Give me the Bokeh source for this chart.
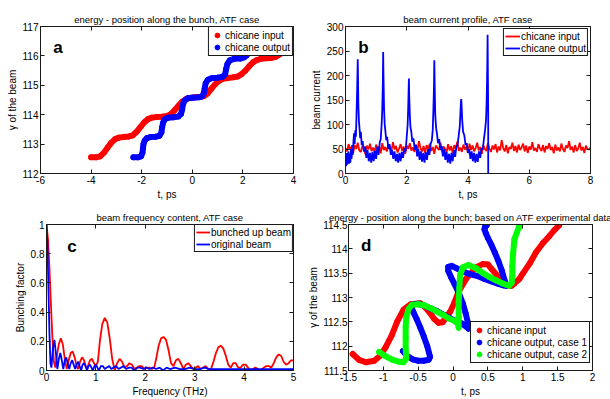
import numpy as np
from bokeh.plotting import figure
from bokeh.models import (Range1d, FixedTicker, LinearAxis, Legend, LegendItem, Label)
from bokeh.layouts import row, column
from bokeh.embed import file_html
from bokeh.resources import INLINE

FONT = "'Liberation Sans'"
RED, BLUE, GREEN = "#ff0000", "#0000ff", "#00ff00"
INK = "#1a1a1a"

# ---------------- data: panel a (energy vs position, ATF case) ----------------
a_in_t = [-4.00, -3.80, -3.65, -3.50, -3.35, -3.20, -3.05, -2.90, -2.70, -2.50, -2.35, -2.20, -2.05,
          -1.90, -1.75, -1.60, -1.40, -1.20, -1.00, -0.85, -0.70, -0.55, -0.40, -0.25, -0.10, 0.10,
          0.30, 0.45, 0.60, 0.75, 0.90, 1.05, 1.20, 1.40, 1.60, 1.80, 1.95, 2.10, 2.25, 2.40, 2.55,
          2.70, 2.90, 3.10, 3.30, 3.45, 3.60, 3.75, 3.90, 4.00]
a_in_g = [112.55, 112.55, 112.58, 112.70, 112.88, 113.05, 113.17, 113.22, 113.24, 113.26, 113.30,
          113.42, 113.58, 113.74, 113.85, 113.90, 113.92, 113.93, 113.96, 114.02, 114.15, 114.30,
          114.44, 114.53, 114.57, 114.59, 114.60, 114.63, 114.72, 114.88, 115.03, 115.15, 115.22,
          115.25, 115.27, 115.30, 115.38, 115.50, 115.65, 115.78, 115.86, 115.90, 115.92, 115.93,
          115.97, 116.05, 116.16, 116.28, 116.37, 116.40]
a_out_t = [-2.33, -2.15, -2.03, -1.97, -1.95, -1.93, -1.88, -1.80, -1.65, -1.45, -1.30, -1.22, -1.19,
           -1.15, -1.08, -0.95, -0.75, -0.55, -0.45, -0.40, -0.37, -0.30, -0.18, 0.00, 0.25, 0.38,
           0.45, 0.49, 0.53, 0.62, 0.78, 1.00, 1.20, 1.30, 1.34, 1.39, 1.48, 1.65, 1.90, 2.05, 2.15, 2.22]
a_out_g = [112.55, 112.55, 112.58, 112.70, 112.85, 113.00, 113.12, 113.20, 113.24, 113.25, 113.28,
           113.40, 113.58, 113.74, 113.85, 113.90, 113.91, 113.94, 114.02, 114.18, 114.35, 114.48,
           114.56, 114.58, 114.59, 114.62, 114.72, 114.90, 115.07, 115.19, 115.25, 115.26, 115.29,
           115.38, 115.56, 115.73, 115.85, 115.90, 115.91, 115.95, 116.02, 116.10]
a_xticks = [-6, -4, -2, 0, 2, 4]
a_xlabels = ["-6", "-4", "-2", "0", "2", "4"]
a_yticks = [112, 113, 114, 115, 116, 117]
a_ylabels = ["112", "113", "114", "115", "116", "117"]

# ---------------- data: panel b (beam current profile) ----------------
b_in_I = [52, 45, 60, 48, 55, 42, 58, 50, 63, 47, 44, 56, 51, 39, 57, 49, 61, 46, 53, 43, 59, 50, 55,
          41, 62, 48, 54, 45, 58, 52, 47, 64, 49, 56, 43, 51, 60, 46, 55, 40, 57, 50, 62, 47, 53, 44,
          59, 48, 66, 51, 45, 56, 42, 58, 49, 61, 46, 54, 40, 57, 52, 48, 63, 45, 55, 50, 43, 60, 47,
          56, 41, 58, 51, 65, 46, 53, 44, 59, 49, 55, 42, 61, 48, 57, 45, 52, 63, 47, 54, 40, 58, 50,
          46, 62, 51, 44, 57, 49, 60, 43, 55, 47, 68, 52, 45, 58, 41, 54, 50, 63, 46, 56, 43, 59, 48,
          53, 61, 45, 57, 42, 55, 49, 64, 47, 52, 44, 60, 51, 46, 58, 43, 56, 50, 62, 48, 54, 41, 59,
          47, 53, 45, 61, 50, 44, 57, 52, 66, 48, 55, 43, 58, 46, 51, 63, 47, 54, 42, 57, 50, 49, 53]
b_in_t = np.linspace(0, 8, len(b_in_I))
b_out_t = [0.00, 0.02, 0.04, 0.06, 0.08, 0.10, 0.12, 0.14, 0.16, 0.18, 0.20, 0.22, 0.24, 0.26, 0.28,
           0.30, 0.32, 0.34, 0.36, 0.38, 0.40, 0.41, 0.42, 0.44, 0.46, 0.48, 0.50, 0.53, 0.56, 0.60,
           0.64, 0.68, 0.72, 0.76, 0.80, 0.84, 0.88, 0.92, 0.96, 1.00, 1.04, 1.08, 1.12, 1.15, 1.18,
           1.20, 1.22, 1.23, 1.24, 1.26, 1.28, 1.30, 1.33, 1.36, 1.40, 1.44, 1.48, 1.52, 1.56, 1.60,
           1.64, 1.68, 1.72, 1.76, 1.80, 1.84, 1.88, 1.92, 1.96, 2.00, 2.03, 2.05, 2.07, 2.08, 2.10,
           2.12, 2.15, 2.18, 2.22, 2.26, 2.30, 2.34, 2.38, 2.42, 2.46, 2.50, 2.54, 2.58, 2.62, 2.66,
           2.70, 2.74, 2.78, 2.82, 2.85, 2.87, 2.89, 2.90, 2.91, 2.93, 2.96, 2.99, 3.02, 3.06, 3.10,
           3.14, 3.18, 3.22, 3.26, 3.30, 3.34, 3.38, 3.42, 3.46, 3.50, 3.54, 3.58, 3.62, 3.66, 3.70,
           3.73, 3.75, 3.77, 3.78, 3.79, 3.81, 3.84, 3.88, 3.92, 3.96, 4.00, 4.04, 4.08, 4.12, 4.16,
           4.20, 4.24, 4.28, 4.32, 4.36, 4.40, 4.44, 4.48, 4.52, 4.56, 4.59, 4.61, 4.63, 4.64, 4.65,
           4.66, 4.66]
b_out_I = [35, 15, 42, 18, 38, 45, 20, 40, 22, 50, 30, 58, 38, 65, 82,
           60, 88, 75, 120, 170, 233, 190, 140, 105, 90, 72, 85, 58, 66, 45,
           55, 32, 48, 25, 42, 22, 44, 25, 46, 30, 55, 38, 64, 70, 100,
           130, 185, 248, 200, 130, 100, 88, 68, 75, 50, 60, 38, 48, 30, 45,
           25, 40, 22, 42, 25, 44, 32, 52, 45, 75, 100, 140, 194, 160, 120,
           95, 85, 65, 72, 48, 58, 35, 50, 28, 45, 24, 42, 22, 44, 28,
           50, 38, 60, 68, 90, 130, 180, 231, 190, 120, 92, 80, 62, 70, 48,
           56, 35, 50, 28, 44, 22, 40, 20, 42, 25, 48, 34, 55, 58, 80,
           95, 120, 148, 152, 140, 110, 85, 78, 58, 62, 42, 50, 30, 45, 25,
           42, 22, 40, 24, 45, 32, 52, 48, 70, 90, 110, 150, 220, 283, 200,
           120, 0]
b_xticks = [0, 2, 4, 6, 8]
b_xlabels = ["0", "2", "4", "6", "8"]
b_yticks = [0, 50, 100, 150, 200, 250, 300]
b_ylabels = ["0", "50", "100", "150", "200", "250", "300"]

# ---------------- data: panel c (beam frequency content) ----------------
c_bun_f = [0.00, 0.03, 0.06, 0.09, 0.12, 0.15, 0.18, 0.21, 0.25, 0.29, 0.33, 0.37, 0.41, 0.45, 0.49,
           0.53, 0.57, 0.61, 0.64, 0.68, 0.72, 0.76, 0.80, 0.84, 0.88, 0.92, 0.96, 1.00, 1.04, 1.08,
           1.13, 1.18, 1.23, 1.28, 1.33, 1.38, 1.43, 1.48, 1.53, 1.58, 1.63, 1.68, 1.73, 1.78, 1.83,
           1.88, 1.93, 1.98, 2.03, 2.08, 2.13, 2.18, 2.22, 2.27, 2.32, 2.37, 2.42, 2.47, 2.52, 2.57,
           2.62, 2.67, 2.72, 2.77, 2.82, 2.87, 2.92, 2.97, 3.02, 3.07, 3.12, 3.17, 3.22, 3.27, 3.32,
           3.38, 3.43, 3.48, 3.53, 3.58, 3.63, 3.68, 3.73, 3.78, 3.83, 3.88, 3.93, 3.98, 4.03, 4.08,
           4.13, 4.18, 4.23, 4.28, 4.33, 4.40, 4.45, 4.50, 4.55, 4.60, 4.65, 4.70, 4.75, 4.80, 4.85,
           4.90, 4.95, 5.00]
c_bun_b = [1.00, 0.90, 0.70, 0.45, 0.22, 0.06, 0.02, 0.10, 0.18, 0.22, 0.18, 0.08, 0.01, 0.07, 0.12,
           0.13, 0.09, 0.03, 0.01, 0.06, 0.09, 0.07, 0.02, 0.03, 0.07, 0.08, 0.05, 0.03, 0.06, 0.20,
           0.32, 0.36, 0.33, 0.22, 0.08, 0.00, 0.05, 0.08, 0.06, 0.02, 0.03, 0.05, 0.04, 0.01, 0.02,
           0.03, 0.03, 0.01, 0.02, 0.02, 0.01, 0.02, 0.08, 0.17, 0.22, 0.23, 0.21, 0.14, 0.05, 0.03,
           0.07, 0.08, 0.05, 0.01, 0.04, 0.05, 0.03, 0.01, 0.02, 0.03, 0.01, 0.02, 0.03, 0.01, 0.00,
           0.06, 0.12, 0.16, 0.17, 0.15, 0.10, 0.04, 0.02, 0.05, 0.05, 0.02, 0.02, 0.04, 0.04, 0.02,
           0.00, 0.01, 0.02, 0.01, 0.00, 0.02, 0.03, 0.03, 0.02, 0.05, 0.09, 0.11, 0.10, 0.06, 0.04,
           0.05, 0.07, 0.07]
c_orig_f = [0.00, 0.02, 0.04, 0.06, 0.08, 0.10, 0.13, 0.16, 0.19, 0.22, 0.25, 0.28, 0.31, 0.34, 0.37,
            0.40, 0.43, 0.46, 0.49, 0.52, 0.55, 0.58, 0.61, 0.64, 0.67, 0.70, 0.73, 0.76, 0.79, 0.82,
            0.85, 0.88, 0.91, 0.94, 0.97, 1.00, 1.03, 1.06, 1.10, 1.14, 1.18, 1.22, 1.27, 1.31, 1.36,
            1.41, 1.46, 1.51, 1.56, 1.61, 1.67, 1.72, 1.78, 1.84, 1.90, 1.96, 2.02, 2.08, 2.15, 2.22,
            2.29, 2.36, 2.43, 2.50, 2.60, 2.70, 2.80, 2.90, 3.00, 3.10, 3.20, 3.30, 3.40, 3.55, 3.70,
            3.85, 4.00, 4.20, 4.40, 4.60, 4.80, 5.00]
c_orig_b = [1.00, 0.85, 0.55, 0.25, 0.05, 0.02, 0.15, 0.21, 0.12, 0.01, 0.08, 0.12, 0.07, 0.01, 0.07,
            0.09, 0.05, 0.01, 0.05, 0.07, 0.04, 0.01, 0.04, 0.06, 0.03, 0.00, 0.04, 0.05, 0.03, 0.00,
            0.03, 0.04, 0.02, 0.00, 0.03, 0.04, 0.02, 0.00, 0.03, 0.03, 0.01, 0.02, 0.03, 0.01, 0.02,
            0.03, 0.01, 0.02, 0.03, 0.01, 0.02, 0.02, 0.00, 0.02, 0.02, 0.01, 0.02, 0.01, 0.02, 0.01,
            0.02, 0.00, 0.02, 0.01, 0.02, 0.01, 0.01, 0.02, 0.01, 0.01, 0.02, 0.01, 0.01, 0.01, 0.01,
            0.01, 0.01, 0.01, 0.01, 0.01, 0.01, 0.01]
c_xticks = [0, 1, 2, 3, 4, 5]
c_xlabels = ["0", "1", "2", "3", "4", "5"]
c_yticks = [0, 0.2, 0.4, 0.6, 0.8, 1]
c_ylabels = ["0", "0.2", "0.4", "0.6", "0.8", "1"]

# ---------------- data: panel d (based on ATF experimental data) ----------------
d_in_t = [-1.44, -1.35, -1.25, -1.13, -1.05, -0.97, -0.88, -0.80, -0.71, -0.61, -0.47, -0.40, -0.33,
          -0.27, -0.21, -0.15, -0.11, -0.04, 0.02, 0.08, 0.19, 0.33, 0.43, 0.50, 0.55, 0.67, 0.78,
          0.84, 0.88, 0.95, 1.00, 1.10, 1.19, 1.29, 1.38, 1.45, 1.52]
d_in_g = [111.84, 111.72, 111.67, 111.70, 111.80, 111.97, 112.22, 112.51, 112.75, 112.86, 112.88,
          112.80, 112.68, 112.56, 112.48, 112.49, 112.57, 112.71, 112.90, 113.12, 113.39, 113.62,
          113.69, 113.68, 113.59, 113.39, 113.24, 113.24, 113.29, 113.38, 113.49, 113.70, 113.93,
          114.12, 114.26, 114.38, 114.48]
d_c1_t = [-0.72, -0.66, -0.58, -0.50, -0.42, -0.35, -0.33, -0.37, -0.42, -0.47, -0.52, -0.57, -0.60,
          -0.56, -0.50, -0.42, -0.33, -0.23, -0.14, -0.05, 0.03, 0.12, 0.19, 0.22, 0.21, 0.18, 0.14,
          0.08, 0.02, -0.03, -0.07, -0.07, -0.02, 0.05, 0.13, 0.24, 0.35, 0.45, 0.55, 0.65, 0.72,
          0.76, 0.74, 0.70, 0.65, 0.60, 0.55, 0.50, 0.47, 0.45, 0.46, 0.48]
d_c1_g = [111.90, 111.80, 111.73, 111.70, 111.70, 111.72, 111.78, 112.00, 112.20, 112.38, 112.55,
          112.70, 112.80, 112.86, 112.87, 112.84, 112.78, 112.72, 112.65, 112.58, 112.52, 112.47,
          112.40, 112.36, 112.50, 112.68, 112.88, 113.10, 113.28, 113.42, 113.55, 113.63, 113.65,
          113.60, 113.54, 113.48, 113.44, 113.38, 113.33, 113.28, 113.25, 113.24, 113.35, 113.55,
          113.75, 113.92, 114.08, 114.22, 114.32, 114.40, 114.46, 114.48]
d_c2_t = [-1.06, -0.98, -0.87, -0.78, -0.71, -0.67, -0.68, -0.68, -0.68, -0.67, -0.64, -0.59, -0.50,
          -0.42, -0.32, -0.23, -0.14, -0.06, 0.02, 0.07, 0.08, 0.08, 0.08, 0.09, 0.10, 0.14, 0.22,
          0.33, 0.43, 0.52, 0.62, 0.71, 0.80, 0.84, 0.85, 0.85, 0.86, 0.88, 0.95]
d_c2_g = [111.88, 111.80, 111.72, 111.68, 111.67, 111.75, 111.95, 112.17, 112.40, 112.60, 112.76,
          112.85, 112.86, 112.84, 112.78, 112.71, 112.64, 112.57, 112.52, 112.46, 112.38, 112.60,
          112.90, 113.20, 113.45, 113.62, 113.67, 113.60, 113.50, 113.42, 113.35, 113.29, 113.24,
          113.30, 113.45, 113.65, 113.90, 114.20, 114.47]
d_xticks = [-1.5, -1, -0.5, 0, 0.5, 1, 1.5, 2]
d_xlabels = ["-1.5", "-1", "-0.5", "0", "0.5", "1", "1.5", "2"]
d_yticks = [111.5, 112, 112.5, 113, 113.5, 114, 114.5]
d_ylabels = ["111.5", "112", "112.5", "113", "113.5", "114", "114.5"]


# ---------------- helpers ----------------
def style_axis(ax, ticks, labels, hidden=False, standoff=2):
    ax.ticker = FixedTicker(ticks=ticks)
    ax.major_tick_in = 4
    ax.major_tick_out = 0
    ax.minor_tick_in = 0
    ax.minor_tick_out = 0
    ax.axis_line_color = INK
    ax.major_tick_line_color = INK
    ax.major_label_text_font = FONT
    ax.axis_label_text_font = FONT
    ax.axis_label_text_font_style = "normal"
    ax.axis_label_text_font_size = "10px"
    ax.axis_label_text_color = "#000000"
    if hidden:
        # tick marks only (MATLAB box ticks) - no labels drawn
        ax.major_label_text_font_size = "0px"
        ax.major_label_text_color = None
        ax.major_label_standoff = 0
    else:
        ax.major_label_overrides = {t: l for t, l in zip(ticks, labels)}
        ax.major_label_text_color = "#000000"
        ax.major_label_text_font_size = "10px"
        ax.major_label_standoff = standoff
        ax.axis_label_standoff = standoff


def make_fig(w, h, bl, br, bt, bb, xr, yr, title, xt, xl, yt, yl, xlabel, ylabel, ystand=2):
    p = figure(width=w, height=h, x_range=Range1d(*xr), y_range=Range1d(*yr),
               output_backend="svg", toolbar_location=None,
               min_border_left=bl, min_border_right=br, min_border_top=bt, min_border_bottom=bb,
               title=title)
    p.grid.visible = False
    p.outline_line_color = INK
    p.outline_line_alpha = 1
    p.outline_line_width = 1
    p.background_fill_color = "white"
    p.border_fill_color = "white"
    p.title.align = "center"
    p.title.text_font = FONT
    p.title.text_font_size = "9.5px"
    p.title.text_font_style = "normal"
    p.title.text_color = "#000000"
    p.title.standoff = 3
    style_axis(p.xaxis[0], xt, xl)
    style_axis(p.yaxis[0], yt, yl, standoff=ystand)
    p.xaxis[0].axis_label = xlabel
    p.yaxis[0].axis_label = ylabel
    top = LinearAxis()
    right = LinearAxis()
    style_axis(top, xt, xl, hidden=True)
    style_axis(right, yt, yl, hidden=True)
    p.add_layout(top, "above")
    p.add_layout(right, "right")
    return p


def make_legend(p, items, location, glyph_w, pad, standoff):
    lg = Legend(items=items, location=location, margin=0, padding=pad, spacing=0,
                glyph_width=glyph_w, glyph_height=12, label_height=11, label_standoff=standoff,
                label_text_font=FONT, label_text_font_size="10px", label_text_color="#000000",
                border_line_color=INK, border_line_width=1, border_line_alpha=1,
                background_fill_color="white", background_fill_alpha=1)
    p.add_layout(lg)
    return lg


def panel_label(p, x, y, txt):
    p.add_layout(Label(x=x, y=y, text=txt, text_font=FONT, text_font_size="17px",
                       text_font_style="bold", text_baseline="middle", text_align="left",
                       text_color="#000000"))


# ---------------- panel a ----------------
pa = make_fig(305, 208, 40, 12, 25, 30, (-6, 4), (112, 117),
              "energy - position along the bunch, ATF case",
              a_xticks, a_xlabels, a_yticks, a_ylabels, "t, ps", "γ of the beam")
pa.line(a_in_t, a_in_g, line_color=RED, line_width=6, line_cap="round", line_join="round")
ra = pa.scatter(a_in_t, a_in_g, size=5, color=RED)
pa.line(a_out_t, a_out_g, line_color=BLUE, line_width=6, line_cap="round", line_join="round")
rb = pa.scatter(a_out_t, a_out_g, size=5, color=BLUE)
make_legend(pa, [LegendItem(label="chicane input", renderers=[ra]),
                 LegendItem(label="chicane output", renderers=[rb])], "top_right", 12, 2, 2)
panel_label(pa, -5.5, 116.3, "a")

# ---------------- panel b ----------------
pb = make_fig(305, 208, 40, 20, 26, 35, (0, 8), (0, 300), "beam current profile, ATF case",
              b_xticks, b_xlabels, b_yticks, b_ylabels, "t, ps", "beam current")
lb1 = pb.line(b_in_t, b_in_I, line_color=RED, line_width=1.8)
lb2 = pb.line(b_out_t, b_out_I, line_color=BLUE, line_width=1.8)
lgb = make_legend(pb, [LegendItem(label="chicane input", renderers=[lb1]),
                       LegendItem(label="chicane output", renderers=[lb2])], "top_right", 15, 1, 1)
lgb.margin = 2
panel_label(pb, 0.42, 257, "b")

# ---------------- panel c ----------------
pc = make_fig(305, 191, 46, 12, 16, 26, (0, 5), (0, 1), "beam frequency content, ATF case",
              c_xticks, c_xlabels, c_yticks, c_ylabels, "Frequency (THz)", "Bunching factor")
lc1 = pc.line(c_bun_f, c_bun_b, line_color=RED, line_width=1.8)
lc2 = pc.line(c_orig_f, c_orig_b, line_color=BLUE, line_width=1.8)
make_legend(pc, [LegendItem(label="bunched up beam", renderers=[lc1]),
                 LegendItem(label="original beam", renderers=[lc2])], "top_right", 14, 1, 1)
panel_label(pc, 0.42, 0.846, "c")

# ---------------- panel d ----------------
pd_ = make_fig(305, 191, 40, 18, 16, 25, (-1.5, 2), (111.5, 114.5),
               "energy - position along the bunch; based on ATF experimental data",
               d_xticks, d_xlabels, d_yticks, d_ylabels, "t, ps", "γ of the beam", ystand=1)
pd_.line(d_in_t, d_in_g, line_color=RED, line_width=6, line_cap="round", line_join="round")
rd1 = pd_.scatter(d_in_t, d_in_g, size=5, color=RED)
pd_.line(d_c1_t, d_c1_g, line_color=BLUE, line_width=6, line_cap="round", line_join="round")
rd2 = pd_.scatter(d_c1_t, d_c1_g, size=5, color=BLUE)
pd_.line(d_c2_t, d_c2_g, line_color=GREEN, line_width=6, line_cap="round", line_join="round")
rd3 = pd_.scatter(d_c2_t, d_c2_g, size=5, color=GREEN)
make_legend(pd_, [LegendItem(label="chicane input", renderers=[rd1]),
                  LegendItem(label="chicane output, case 1", renderers=[rd2]),
                  LegendItem(label="chicane output, case 2", renderers=[rd3])], (122, 7), 12, 2, 2)
panel_label(pd_, -1.32, 114.06, "d")

layout = column(row(pa, pb), row(pc, pd_))

open("out.html", "w").write(file_html(layout, INLINE))
